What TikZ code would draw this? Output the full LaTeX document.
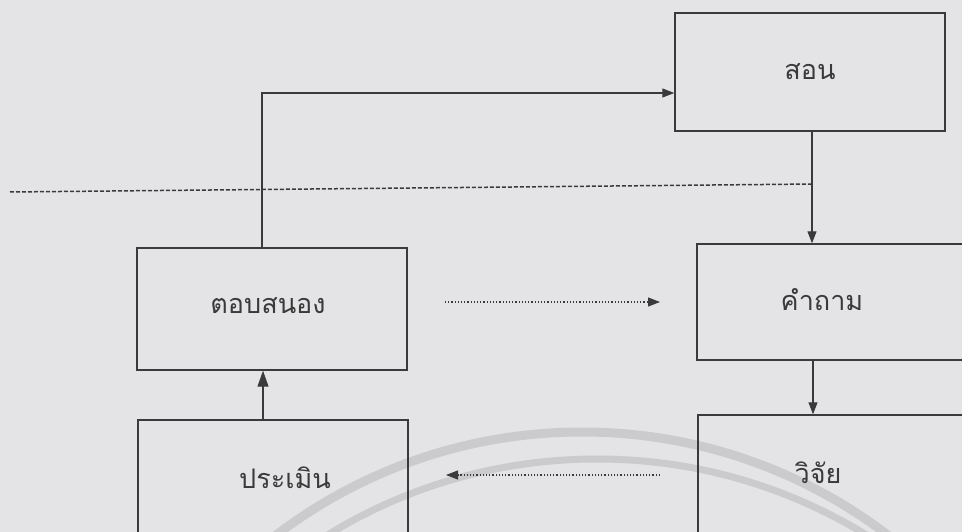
\documentclass[tikz,border=0pt]{standalone}
\usepackage{fontspec}
\newfontfamily\thaifont[Script=Thai]{Loma}
\usetikzlibrary{arrows.meta}
\definecolor{bg}{HTML}{E4E4E6}
\definecolor{ink}{HTML}{3A3A3A}
\definecolor{wm}{HTML}{CBCBCD}
\tikzset{
  x=1pt,y=-1pt,
  box/.style={draw=ink,line width=1.4pt,rectangle,minimum width=270pt},
  lbl/.style={font=\thaifont\fontsize{27}{32}\selectfont,text=ink,inner sep=0pt},
  arr/.style={draw=ink,line width=1.1pt,-{Triangle[length=12pt,width=9pt]}},
  dotarr/.style={draw=ink,line width=1.2pt,dotted,-{Triangle[length=12pt,width=9pt]}},
  dash line/.style={draw=ink,line width=1.5pt,dash pattern=on 4pt off 2pt}
}
\begin{document}
\begin{tikzpicture}
\clip (0,0) rectangle (962,532);
\fill[bg] (0,0) rectangle (962,532);
% watermark arcs
\coordinate (wc1) at (582,937);
\coordinate (wc2) at (597,974);
\draw[wm,line width=9pt] (wc1) circle[radius=505pt];
\draw[wm,line width=7pt] (wc2) circle[radius=515pt];
% boxes
\node[box,minimum height=118pt] (son) at (810,72) {};
\node[box,minimum height=122pt] (tob) at (272,309) {};
\node[box,minimum height=116pt] (kham) at (832,302) {};
\node[box,minimum height=118pt] (wijai) at (833,474) {};
\node[box,minimum height=120pt] (pram) at (273,480) {};
% labels
\node[lbl] (sont) at (810,72) {สอน};
\node[lbl] (tobt) at (268,306) {ตอบสนอง};
\node[lbl] (khamt) at (822,300) {คำถาม};
\node[lbl] (wijait) at (818,473) {วิจัย};
\node[lbl] (pramt) at (285,478) {ประเมิน};
% dashed line
\coordinate (dl1) at (10,192);
\coordinate (dl2) at (813,184);
\draw[dash line] (dl1) -- (dl2);
% connectors
\draw[arr] ([xshift=-10pt]tob.north) |- ([yshift=-21pt]son.west);
\draw[arr] ([xshift=2pt]son.south) -- ([xshift=2pt]son.south |- kham.north);
\draw[arr] ([xshift=-19pt]kham.south) -- ([xshift=-19pt]kham.south |- wijai.north);
\draw[draw=ink,line width=1.1pt,-{Triangle[length=16pt,width=11pt]}] ([xshift=-10pt]pram.north) -- ([xshift=-10pt]pram.north |- tob.south);
\coordinate (d1a) at (445,302);
\coordinate (d1b) at (660,302);
\draw[dotarr] (d1a) -- (d1b);
\coordinate (d2a) at (660,475);
\coordinate (d2b) at (446,475);
\draw[dotarr] (d2a) -- (d2b);
\end{tikzpicture}
\end{document}
